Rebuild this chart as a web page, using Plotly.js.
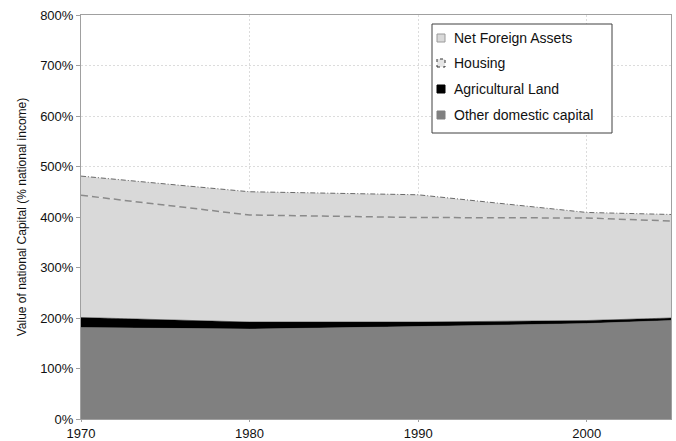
<!DOCTYPE html>
<html><head><meta charset="utf-8">
<script src="https://cdn.plot.ly/plotly-3.0.1.min.js"></script>
<style>html,body{margin:0;padding:0;background:#fff}</style>
</head><body>
<div id="chart" style="width:676px;height:441px"></div>
<script>
const years = [1970, 1980, 1990, 2000, 2005];
const otherDomestic = [181, 178, 183, 189, 195];
const agriculturalLand = [20, 14, 9, 6, 5];
const housing = [242, 212, 207, 203, 192];
const netForeignAssets = [38, 46, 45, 11, 13];
const seriesNames = ['Other domestic capital', 'Agricultural Land', 'Housing', 'Net Foreign Assets'];
const yTicks = [0, 100, 200, 300, 400, 500, 600, 700, 800];
const yTickLabels = ['0%','100%','200%','300%','400%','500%','600%','700%','800%'];
const xTicks = [1970, 1980, 1990, 2000];

const traces = [
  {x: years, y: otherDomestic, name: seriesNames[0], type: 'scatter', mode: 'lines',
   stackgroup: 'a', fillcolor: '#808080', line: {color: '#808080', width: 0.5}},
  {x: years, y: agriculturalLand, name: seriesNames[1], type: 'scatter', mode: 'lines',
   stackgroup: 'a', fillcolor: '#000000', line: {color: '#000000', width: 0.5}},
  {x: years, y: housing, name: seriesNames[2], type: 'scatter', mode: 'lines',
   stackgroup: 'a', fillcolor: '#d9d9d9', line: {color: '#8a8a8a', width: 1.5, dash: '7px,4px'}},
  {x: years, y: netForeignAssets, name: seriesNames[3], type: 'scatter', mode: 'lines',
   stackgroup: 'a', fillcolor: '#d9d9d9', line: {color: '#6a6a6a', width: 1, dash: '5px,2px,1px,2px'}}
];

// custom legend (box, swatches, labels) in paper coordinates of the plot area
const px = v => (v - 81) / 590;
const py = v => (419 - v) / 404;
const legendRows = [38, 63, 89, 115];
const swatch = [
  {fill: '#d9d9d9', line: '#9a9a9a', dash: 'solid'},
  {fill: '#e6e6e6', line: '#333333', dash: 'dot'},
  {fill: '#000000', line: '#000000', dash: 'solid'},
  {fill: '#808080', line: '#808080', dash: 'solid'}
];
const legendOrder = [3, 2, 1, 0];
const shapes = [{type: 'rect', xref: 'paper', yref: 'paper',
  x0: px(432), x1: px(612), y0: py(133), y1: py(24),
  fillcolor: '#ffffff', line: {color: '#404040', width: 1}, layer: 'above'}];
const annotations = [];
legendOrder.forEach((idx, i) => {
  const cy = legendRows[i];
  shapes.push({type: 'rect', xref: 'paper', yref: 'paper',
    x0: px(437), x1: px(445), y0: py(cy + 4), y1: py(cy - 4),
    fillcolor: swatch[i].fill, line: {color: swatch[i].line, width: 1, dash: swatch[i].dash}, layer: 'above'});
  annotations.push({xref: 'paper', yref: 'paper', x: px(452), y: py(cy), xanchor: 'left', yanchor: 'middle',
    text: seriesNames[idx], showarrow: false, font: {size: 14, color: '#111'}});
});

const layout = {
  width: 676, height: 441,
  margin: {l: 81, r: 5, t: 15, b: 22},
  paper_bgcolor: '#ffffff', plot_bgcolor: '#ffffff',
  font: {family: 'Liberation Sans, Arial, sans-serif', size: 13, color: '#222'},
  showlegend: false,
  shapes: shapes,
  annotations: annotations,
  xaxis: {range: [1970, 2005], tickvals: xTicks, ticktext: xTicks.map(String),
    showgrid: true, gridcolor: '#dcdcdc', griddash: '2px,2px', gridwidth: 1,
    showline: true, linecolor: '#a0a0a0', linewidth: 1, mirror: true,
    ticks: 'outside', ticklen: 2, tickcolor: '#a0a0a0', zeroline: false,
    tickfont: {size: 13, color: '#111'}},
  yaxis: {range: [0, 800], tickvals: yTicks, ticktext: yTickLabels,
    showgrid: true, gridcolor: '#dcdcdc', griddash: '2px,2px', gridwidth: 1,
    showline: true, linecolor: '#a0a0a0', linewidth: 1, mirror: true,
    ticks: 'outside', ticklen: 4, tickcolor: '#a0a0a0', zeroline: false,
    tickfont: {size: 13, color: '#111'},
    title: {text: 'Value of national Capital (% national income)', font: {size: 12, color: '#111'}, standoff: 10}}
};

Plotly.newPlot('chart', traces, layout, {displayModeBar: false, staticPlot: true});
</script>
</body></html>
